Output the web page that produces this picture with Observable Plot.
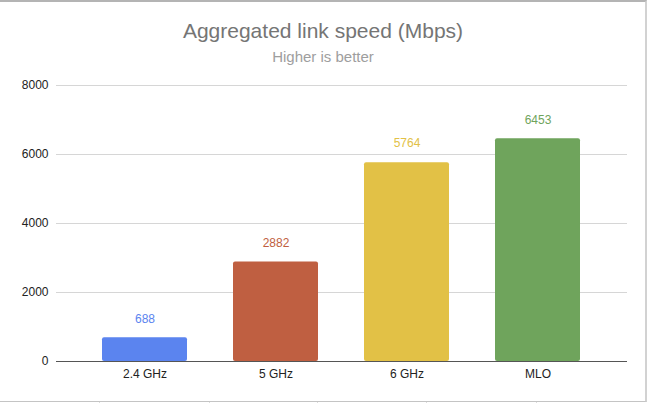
<!DOCTYPE html>
<html>
<head>
<meta charset="utf-8">
<script src="https://cdn.jsdelivr.net/npm/d3@7"></script>
<script src="https://cdn.jsdelivr.net/npm/@observablehq/plot@0.6"></script>
<style>
  html, body { margin: 0; padding: 0; background: #fff; }
  body { width: 648px; height: 403px; position: relative; overflow: hidden; font-family: "Liberation Sans", Arial, sans-serif; }
  #frame { position: absolute; left: 0; top: 0; width: 645px; height: 399px; border-top: 2px solid #b4b4b4; border-right: 2px solid #d2d2d2; border-bottom: 1px solid #c4c4c4; }
  #title { position: absolute; left: 0; width: 646px; top: 17px; text-align: center; font-size: 21px; line-height: 28px; color: #757575; }
  #subtitle { position: absolute; left: 0; width: 646px; top: 47px; text-align: center; font-size: 15px; line-height: 20px; color: #9e9e9e; }
  #chart { position: absolute; left: 0; top: 70px; }
  .cell { position: absolute; top: 402px; width: 1px; height: 2px; background: #dcdcdc; }
</style>
</head>
<body>
<div id="frame"></div>
<div class="cell" style="left:99px"></div>
<div class="cell" style="left:209px"></div>
<div class="cell" style="left:317px"></div>
<div class="cell" style="left:426px"></div>
<div class="cell" style="left:536px"></div>
<div id="title">Aggregated link speed (Mbps)</div>
<div id="subtitle">Higher is better</div>
<div id="chart"></div>
<script>
const categories = ["2.4 GHz", "5 GHz", "6 GHz", "MLO"];
const speeds = [688, 2882, 5764, 6453];
const barColors = ["#5b84ef", "#bf5f41", "#e2c146", "#6fa45c"];
const yTicks = [0, 2000, 4000, 6000, 8000];

const data = categories.map((c, i) => ({category: c, speed: speeds[i]}));

const chart = Plot.plot({
  width: 648,
  height: 330,
  marginTop: 15,
  marginBottom: 39,
  marginLeft: 56,
  marginRight: 21,
  style: {background: "transparent", fontFamily: "Liberation Sans, Arial, sans-serif", fontSize: "12px", color: "#222"},
  x: {domain: categories, padding: 0.35, label: null, tickSize: 0, tickPadding: 8},
  y: {domain: [0, 8000], ticks: yTicks, label: null, tickSize: 0, tickPadding: 8, tickFormat: d => String(d)},
  color: {domain: categories, range: barColors},
  marks: [
    Plot.ruleY(yTicks.filter(d => d > 0), {stroke: "#d6d6d6", strokeWidth: 1}),
    Plot.barY(data, {x: "category", y: "speed", fill: "category", rx: 2}),
    Plot.ruleY([0], {stroke: "#555", strokeWidth: 1}),
    Plot.text(data, {x: "category", y: "speed", text: d => String(d.speed), fill: "category", dy: -19, fontSize: 12})
  ]
});
document.getElementById("chart").appendChild(chart);
</script>
</body>
</html>
